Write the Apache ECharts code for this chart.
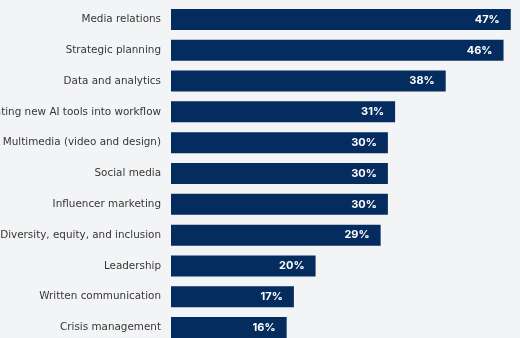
<!DOCTYPE html>
<html>
<head>
<meta charset="utf-8">
<script src="https://cdn.jsdelivr.net/npm/echarts@6/dist/echarts.min.js"></script>
<style>
  html, body { margin: 0; padding: 0; background: #f3f4f6; }
  #chart { width: 520px; height: 338px; }
</style>
</head>
<body>
<div id="chart"></div>
<script>
// Skills ranked by share of respondents
const categories = [
  'Media relations',
  'Strategic planning',
  'Data and analytics',
  'Integrating new AI tools into workflow',
  'Multimedia (video and design)',
  'Social media',
  'Influencer marketing',
  'Diversity, equity, and inclusion',
  'Leadership',
  'Written communication',
  'Crisis management'
];
const shares = [47, 46, 38, 31, 30, 30, 30, 29, 20, 17, 16];

const chart = echarts.init(document.getElementById('chart'), null, { renderer: 'canvas' });
chart.setOption({
  backgroundColor: '#f3f4f6',
  animation: false,
  grid: {
    left: 171, right: 2, top: 4, height: 339,
    containLabel: false,
    outerBoundsMode: 'none'
  },
  xAxis: {
    type: 'value', min: 0, max: 48,
    show: false
  },
  yAxis: {
    type: 'category',
    data: categories,
    inverse: true,
    axisLine: { show: false },
    axisTick: { show: false },
    axisLabel: {
      margin: 10,
      color: '#363636',
      fontSize: 10.4,
      fontFamily: 'DejaVu Sans'
    }
  },
  series: [{
    type: 'bar',
    data: shares,
    barWidth: 21,
    itemStyle: { color: '#052c5f' },
    label: {
      show: true,
      position: 'insideRight',
      distance: 11,
      color: '#ffffff',
      fontWeight: 'bold',
      fontSize: 11,
      fontFamily: 'Inter',
      formatter: p => p.value + '%'
    }
  }]
});
</script>
</body>
</html>
